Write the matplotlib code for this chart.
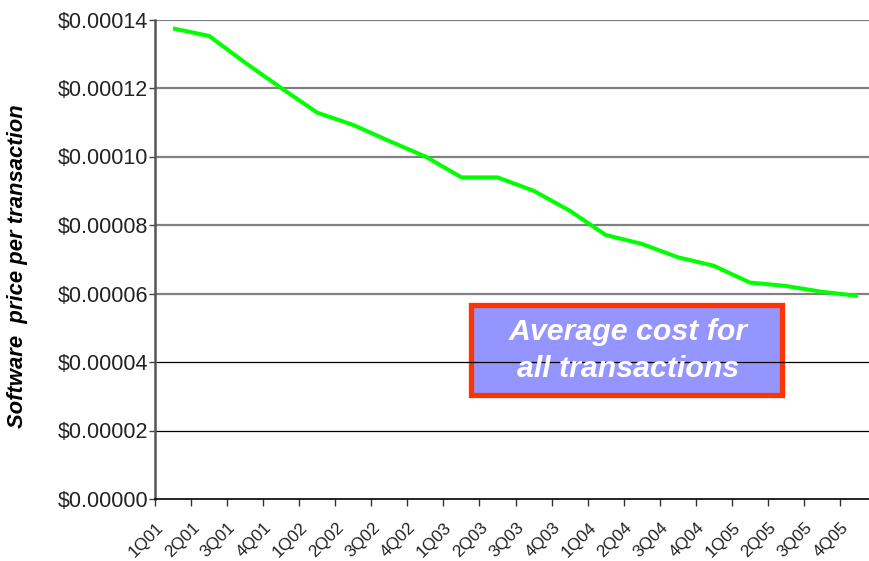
import matplotlib
matplotlib.use('Agg')
import matplotlib.pyplot as plt
import matplotlib.transforms as mtransforms
import numpy as np
from matplotlib.patches import Rectangle

quarters = ['1Q01', '2Q01', '3Q01', '4Q01', '1Q02', '2Q02', '3Q02', '4Q02',
            '1Q03', '2Q03', '3Q03', '4Q03', '1Q04', '2Q04', '3Q04', '4Q04',
            '1Q05', '2Q05', '3Q05', '4Q05']
price = [0.0001374, 0.0001352, 0.0001274, 0.0001200, 0.0001128, 0.0001092,
         0.0001045, 0.0001000, 0.0000939, 0.0000939, 0.0000900, 0.0000842,
         0.0000771, 0.0000745, 0.0000706, 0.0000681, 0.0000632, 0.0000622,
         0.0000605, 0.0000593]
yticks = [0.0, 0.00002, 0.00004, 0.00006, 0.00008, 0.00010, 0.00012, 0.00014]

plt.rcParams['font.family'] = ['Liberation Sans', 'DejaVu Sans']

fig = plt.figure(figsize=(8.69, 5.61), dpi=100)
ax = fig.add_axes([155 / 869, 62 / 561, 721 / 869, 479.5 / 561])

x = np.arange(len(quarters))

# horizontal grid: grey in the upper part, black below the box
for v in yticks[1:]:
    if v >= 0.00006:
        ax.axhline(v, color='#808080', lw=1.6, zorder=2)
    else:
        ax.axhline(v, color='black', lw=0.9, zorder=2)

ax.plot(x, price, color='#00FF00', lw=2.9, zorder=4, solid_capstyle='butt')

ax.set_xlim(-0.5, len(quarters) - 0.5)
ax.set_ylim(0, 0.00014)

ax.set_yticks(yticks)
ax.set_yticklabels(['$%.5f' % v for v in yticks], fontsize=15.5, color='#222222')
ax.tick_params(axis='y', length=4, width=1, direction='out', pad=1, color='#444444')

ax.set_xticks(x)
ax.set_xticklabels(quarters, rotation=45, ha='right', va='center',
                   rotation_mode='anchor', fontsize=12.3, color='#222222')
ax.tick_params(axis='x', which='major', length=0, pad=0)
# slide the slanted labels left/down so they end just short of each category
shift = mtransforms.ScaledTranslation(-0.12, -0.26, fig.dpi_scale_trans)
for lbl in ax.get_xticklabels():
    lbl.set_transform(lbl.get_transform() + shift)
ax.set_xticks(np.arange(-0.5, len(quarters), 1.0), minor=True)
ax.tick_params(axis='x', which='minor', length=5, width=1, direction='out', color='#333333')

for s in ['top', 'right']:
    ax.spines[s].set_visible(False)
ax.spines['left'].set_color('#555555')
ax.spines['left'].set_linewidth(1.8)
ax.spines['bottom'].set_color('black')
ax.spines['bottom'].set_linewidth(1.2)

ax.set_ylabel('Software  price per transaction', fontsize=15.8, style='italic',
              fontweight='bold', color='black')
ax.yaxis.set_label_coords(-0.1755, 0.486)

# annotation box
box = Rectangle((0.4376, 0.2179), 0.4327, 0.1877, transform=ax.transAxes,
                facecolor='#9595FF', edgecolor='#FF3300', lw=3.8, zorder=1)
ax.add_patch(box)
ax.text(0.656, 0.31, 'Average cost for\nall transactions', transform=ax.transAxes,
        ha='center', va='center', fontsize=21.8, color='white', style='italic',
        fontweight='bold', zorder=5, linespacing=1.4)

fig.savefig('out.png', dpi=100)
